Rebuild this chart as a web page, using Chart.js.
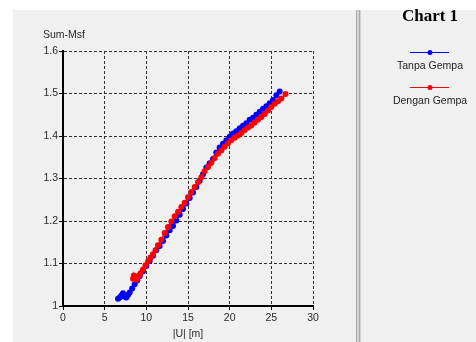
<!DOCTYPE html>
<html>
<head>
<meta charset="utf-8">
<script src="https://cdn.jsdelivr.net/npm/chart.js@4/dist/chart.umd.min.js"></script>
<style>
  html, body { margin: 0; padding: 0; background: #fff; }
  #wrap { width: 476px; height: 342px; }
</style>
</head>
<body>
<div id="wrap"><canvas id="chart" width="476" height="342"></canvas></div>
<script>
// データ
const chartTitle = 'Chart 1';
const xTitle = '|U| [m]';
const yTitle = 'Sum-Msf';

const tanpaLabel = 'Tanpa Gempa';
const tanpaX = [6.6, 6.8, 7.0, 7.2, 7.4, 7.6, 7.8, 8.0, 8.3, 8.6, 8.9, 9.2, 9.6, 10.0, 10.4, 10.8,
  11.2, 11.6, 12.0, 12.4, 12.8, 13.2, 13.6, 14.0, 14.4, 14.8, 15.2, 15.6, 16.0, 16.4, 16.8,
  17.2, 17.6, 18.0, 18.4, 18.8, 19.2, 19.6, 20.0, 20.4, 20.8, 21.2, 21.6, 22.0, 22.4, 22.8,
  23.2, 23.6, 24.0, 24.4, 24.8, 25.2, 25.6, 26.0];
const tanpaY = [1.017, 1.020, 1.025, 1.030, 1.022, 1.020, 1.026, 1.032, 1.041, 1.051, 1.060, 1.070,
  1.082, 1.094, 1.106, 1.118, 1.131, 1.141, 1.153, 1.166, 1.178, 1.188, 1.201, 1.215, 1.228,
  1.241, 1.254, 1.267, 1.280, 1.295, 1.310, 1.326, 1.336, 1.346, 1.361, 1.373, 1.382, 1.390,
  1.398, 1.406, 1.411, 1.418, 1.424, 1.430, 1.438, 1.443, 1.450, 1.457, 1.464, 1.470, 1.477,
  1.485, 1.496, 1.505];

const denganLabel = 'Dengan Gempa';
const denganX = [8.4, 8.5, 8.6, 8.8, 8.9, 9.1, 9.3, 9.6, 9.9, 10.2, 10.5, 10.8, 11.1, 11.4, 11.8,
  12.2, 12.6, 13.0, 13.4, 13.8, 14.2, 14.6, 15.0, 15.4, 15.8, 16.2, 16.6, 17.0, 17.4, 17.8,
  18.2, 18.6, 19.0, 19.4, 19.8, 20.2, 20.6, 21.0, 21.4, 21.8, 22.2, 22.6, 23.0, 23.4, 23.8,
  24.2, 24.6, 25.0, 25.4, 25.8, 26.2, 26.7];
const denganY = [1.064, 1.072, 1.066, 1.062, 1.068, 1.072, 1.077, 1.086, 1.096, 1.105, 1.114, 1.122,
  1.131, 1.143, 1.156, 1.172, 1.186, 1.199, 1.211, 1.222, 1.233, 1.243, 1.256, 1.268, 1.280,
  1.291, 1.303, 1.317, 1.327, 1.337, 1.348, 1.358, 1.366, 1.375, 1.383, 1.390, 1.396, 1.401,
  1.407, 1.414, 1.420, 1.425, 1.432, 1.438, 1.445, 1.452, 1.460, 1.468, 1.476, 1.482, 1.488,
  1.499];

const xTicks = [0, 5, 10, 15, 20, 25, 30];
const yTicks = [1, 1.1, 1.2, 1.3, 1.4, 1.5, 1.6];

function toPoints(xs, ys) {
  return xs.map((x, i) => ({ x: x, y: ys[i] }));
}

const labelFont = { family: "'Liberation Sans', Arial, sans-serif", size: 10.5 };
const textColor = '#2a2a2a';

// 背景・区切り線・凡例・軸タイトル
const framePlugin = {
  id: 'frame',
  beforeDraw(chart) {
    const ctx = chart.ctx;
    ctx.save();
    ctx.fillStyle = '#ffffff';
    ctx.fillRect(0, 0, chart.width, chart.height);
    ctx.fillStyle = '#f0f0f0';
    ctx.fillRect(13, 10, chart.width - 13, chart.height - 10);
    // 区切り線
    ctx.fillStyle = '#d4d4d4';
    ctx.fillRect(356, 10, 5, chart.height - 10);
    ctx.fillStyle = '#a8a8a8';
    ctx.fillRect(356, 10, 1, chart.height - 10);
    ctx.fillRect(359, 10, 1, chart.height - 10);
    ctx.restore();
  },
  afterDraw(chart) {
    const ctx = chart.ctx;
    const area = chart.chartArea;
    ctx.save();
    ctx.font = "10.5px 'Liberation Sans', Arial, sans-serif";
    ctx.fillStyle = textColor;
    ctx.textBaseline = 'middle';
    ctx.textAlign = 'left';
    ctx.fillText(yTitle, 43, 35);
    ctx.textAlign = 'center';
    ctx.fillText(xTitle, (area.left + area.right) / 2, 334);

    // タイトル
    const cx = 430;
    ctx.font = "bold 17px 'Liberation Serif', 'Times New Roman', serif";
    ctx.fillStyle = '#000';
    ctx.fillText(chartTitle, cx, 17);

    // 凡例
    ctx.font = "10.5px 'Liberation Sans', Arial, sans-serif";
    const rows = [
      { ds: chart.data.datasets[0], y: 52.5 },
      { ds: chart.data.datasets[1], y: 87.5 }
    ];
    rows.forEach(r => {
      ctx.strokeStyle = r.ds.borderColor;
      ctx.lineWidth = 1;
      ctx.beginPath();
      ctx.moveTo(410, r.y);
      ctx.lineTo(449, r.y);
      ctx.stroke();
      ctx.fillStyle = r.ds.backgroundColor;
      ctx.beginPath();
      ctx.arc(cx, r.y, 2.5, 0, Math.PI * 2);
      ctx.fill();
      ctx.fillStyle = '#222';
      ctx.fillText(r.ds.label, cx, r.y + 14);
    });
    ctx.restore();
  }
};

const ctx = document.getElementById('chart').getContext('2d');
const chart = new Chart(ctx, {
  type: 'scatter',
  data: {
    datasets: [
      {
        label: tanpaLabel,
        data: toPoints(tanpaX, tanpaY),
        showLine: true,
        borderColor: '#0000ff',
        backgroundColor: '#0000ff',
        borderWidth: 1.5,
        pointRadius: 3,
        pointBorderWidth: 0,
        order: 2
      },
      {
        label: denganLabel,
        data: toPoints(denganX, denganY),
        showLine: true,
        borderColor: '#ff0000',
        backgroundColor: '#ff0000',
        borderWidth: 1.5,
        pointRadius: 3,
        pointBorderWidth: 0,
        order: 1
      }
    ]
  },
  options: {
    responsive: false,
    animation: false,
    layout: { padding: { left: 0, top: 51, right: 163, bottom: 0 } },
    plugins: {
      legend: { display: false },
      title: { display: false },
      tooltip: { enabled: false }
    },
    scales: {
      x: {
        type: 'linear',
        min: xTicks[0],
        max: xTicks[xTicks.length - 1],
        afterFit(scale) { scale.height = 36; },
        afterBuildTicks(scale) { scale.ticks = xTicks.map(v => ({ value: v })); },
        ticks: { font: labelFont, color: textColor, padding: 2, maxRotation: 0 },
        grid: { color: '#333', lineWidth: 1, tickLength: 4, tickColor: '#000', tickWidth: 1 },
        border: { display: true, color: '#000', width: 2, dash: [3, 2] }
      },
      y: {
        type: 'linear',
        min: yTicks[0],
        max: yTicks[yTicks.length - 1],
        afterFit(scale) { scale.width = 63; },
        afterBuildTicks(scale) { scale.ticks = yTicks.map(v => ({ value: v })); },
        ticks: {
          font: labelFont, color: textColor, padding: 1,
          callback: v => String(Math.round(v * 10) / 10)
        },
        grid: { color: '#333', lineWidth: 1, tickLength: 4, tickColor: '#000', tickWidth: 1 },
        border: { display: true, color: '#000', width: 2, dash: [3, 2] }
      }
    }
  },
  plugins: [framePlugin]
});
</script>
</body>
</html>
